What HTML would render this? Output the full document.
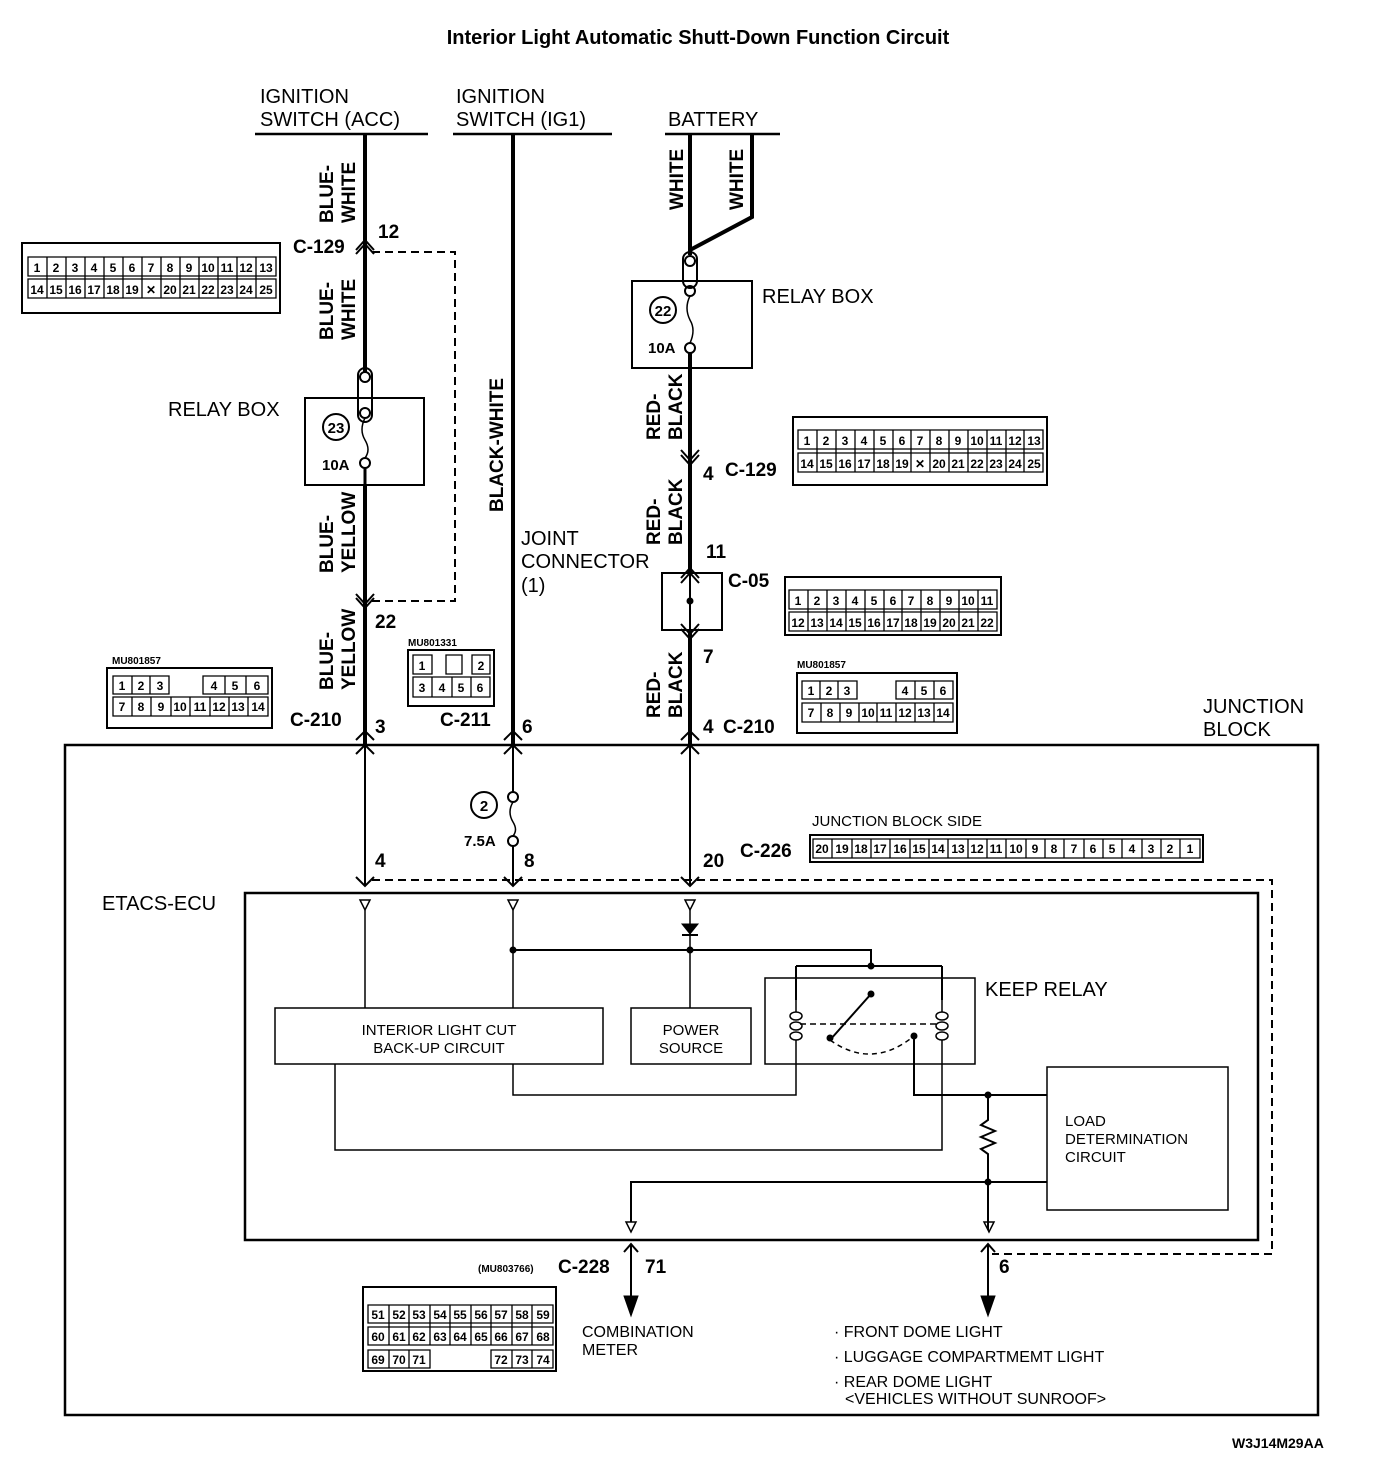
<!DOCTYPE html>
<html><head><meta charset="utf-8"><style>
html,body{margin:0;padding:0;background:#fff}
svg{display:block}
text{font-family:"Liberation Sans",sans-serif;fill:#000}
.c{font-size:12px;font-weight:bold;text-anchor:middle}
.n{font-family:"Liberation Sans",sans-serif;font-weight:bold;font-size:19px}
.l{font-size:20px}
.s{font-size:16px}
</style></head><body>
<svg width="1376" height="1470" viewBox="0 0 1376 1470" xmlns="http://www.w3.org/2000/svg">
<g fill="none" stroke="#000">
<!-- headers -->
<line x1="255" y1="134" x2="428" y2="134" stroke-width="2.5"/>
<line x1="453" y1="134" x2="612" y2="134" stroke-width="2.5"/>
<line x1="665" y1="134" x2="780" y2="134" stroke-width="2.5"/>
<!-- ACC wire -->
<line x1="365" y1="134" x2="365" y2="372" stroke-width="4"/>
<line x1="365" y1="485" x2="365" y2="745" stroke-width="4"/>
<rect x="358" y="368" width="14" height="54" rx="7" stroke-width="2"/>
<circle cx="365" cy="377" r="5" stroke-width="2"/><circle cx="365" cy="413" r="5" stroke-width="2"/>
<circle cx="365" cy="463" r="5" stroke-width="2"/>
<path d="M365 418 q-6 12 0 22 q6 10 0 18" stroke-width="1.5"/>
<line x1="365" y1="468" x2="365" y2="485" stroke-width="3"/>
<rect x="305" y="398" width="119" height="87" stroke-width="2"/>
<circle cx="336" cy="427" r="13" stroke-width="2"/>
<!-- dashed loop -->
<path d="M372 252 H455 V601 H370" stroke-width="2" stroke-dasharray="8,5"/>
<!-- arrows on ACC -->
<path d="M356 254 L365 244 L374 254 M356 250 L365 240 L374 250" stroke-width="2"/>
<path d="M356 594 L365 604 L374 594 M356 598 L365 608 L374 598" stroke-width="2"/>
<!-- IG1 wire -->
<line x1="513" y1="134" x2="513" y2="745" stroke-width="4"/>
<!-- battery wires -->
<line x1="690" y1="134" x2="690" y2="255" stroke-width="4"/>
<path d="M752 134 V217 L690 250" stroke-width="4"/>
<rect x="683" y="252" width="14" height="36" rx="7" stroke-width="2"/>
<circle cx="690" cy="261" r="5" stroke-width="2"/><circle cx="690" cy="291" r="5" stroke-width="2"/>
<circle cx="690" cy="348" r="5" stroke-width="2"/>
<path d="M690 296 q-6 12 0 24 q6 10 0 23" stroke-width="1.5"/>
<rect x="632" y="281" width="120" height="87" stroke-width="2"/>
<circle cx="663" cy="310" r="13" stroke-width="2"/>
<line x1="690" y1="353" x2="690" y2="573" stroke-width="4"/>
<line x1="690" y1="630" x2="690" y2="745" stroke-width="4"/>
<path d="M681 450 L690 460 L699 450 M681 455 L690 465 L699 455" stroke-width="2"/>
<rect x="662" y="573" width="60" height="57" stroke-width="2"/>
<line x1="690" y1="573" x2="690" y2="630" stroke-width="2"/>
<circle cx="690" cy="601" r="3" fill="#000"/>
<path d="M681 578 L690 568 L699 578 M681 583 L690 573 L699 583" stroke-width="2"/>
<path d="M681 624 L690 634 L699 624 M681 629 L690 639 L699 629" stroke-width="2"/>
<!-- Junction block -->
<rect x="65" y="745" width="1253" height="670" stroke-width="2.5"/>
<!-- arrows at JB top -->
<path d="M356 740 L365 731 L374 740 M356 754 L365 745 L374 754 M504 740 L513 731 L522 740 M504 754 L513 745 L522 754 M681 740 L690 731 L699 740 M681 754 L690 745 L699 754" stroke-width="2"/>
<!-- inside wires -->
<line x1="365" y1="745" x2="365" y2="885" stroke-width="2"/>
<line x1="513" y1="745" x2="513" y2="792" stroke-width="2"/>
<circle cx="513" cy="797" r="5" stroke-width="2"/><circle cx="513" cy="841" r="5" stroke-width="2"/>
<path d="M513 802 q-6 10 0 20 q5 8 0 14" stroke-width="1.5"/>
<circle cx="484" cy="805" r="13" stroke-width="2"/>
<line x1="513" y1="846" x2="513" y2="885" stroke-width="2"/>
<line x1="690" y1="745" x2="690" y2="885" stroke-width="2"/>
<path d="M356 877 L365 886 L374 877 M504 877 L513 886 L522 877 M681 877 L690 886 L699 877" stroke-width="2"/>
<path d="M372 880 H1272 V1254 H992" stroke-width="2" stroke-dasharray="8,5"/>
<!-- C-226 strip -->
<rect x="810" y="835" width="393" height="27" stroke-width="2"/>
<!-- ECU -->
<rect x="245" y="893" width="1013" height="347" stroke-width="2.5"/>
<path d="M360 900 h10 l-5 10 z M508 900 h10 l-5 10 z M685 900 h10 l-5 10 z M626 1222 h10 l-5 10 z M984 1222 h10 l-5 10 z" stroke-width="1.5"/>
<line x1="365" y1="910" x2="365" y2="1008" stroke-width="1.5"/>
<line x1="513" y1="910" x2="513" y2="1008" stroke-width="1.5"/>
<line x1="690" y1="910" x2="690" y2="1008" stroke-width="1.5"/>
<path d="M682 924 h16 l-8 10 z" fill="#000"/><line x1="682" y1="935" x2="698" y2="935" stroke-width="2"/>
<path d="M513 950 H871 V966 M796 966 V1000 M942 966 V1000 M796 966 H942" stroke-width="2"/>
<circle cx="513" cy="950" r="3" fill="#000"/><circle cx="690" cy="950" r="3" fill="#000"/><circle cx="871" cy="966" r="3" fill="#000"/>
<rect x="275" y="1008" width="328" height="56" stroke-width="1.5"/>
<rect x="631" y="1008" width="120" height="56" stroke-width="1.5"/>
<rect x="765" y="978" width="210" height="86" stroke-width="1.5"/>
<path d="M796 1000 V1012 M796 1040 V1095 H513 V1064 M942 1000 V1012 M942 1040 V1150 H335 V1064" stroke-width="1.5"/>
<g stroke-width="1.5"><ellipse cx="796" cy="1016" rx="6" ry="4"/><ellipse cx="796" cy="1026" rx="6" ry="4"/><ellipse cx="796" cy="1036" rx="6" ry="4"/>
<ellipse cx="942" cy="1016" rx="6" ry="4"/><ellipse cx="942" cy="1026" rx="6" ry="4"/><ellipse cx="942" cy="1036" rx="6" ry="4"/></g>
<path d="M871 994 L830 1040" stroke-width="2"/>
<circle cx="871" cy="994" r="3" fill="#000"/><circle cx="830" cy="1038" r="3" fill="#000"/><circle cx="914" cy="1036" r="3" fill="#000"/>
<path d="M800 1024 H938" stroke-width="1.5" stroke-dasharray="6,4"/>
<path d="M830 1040 Q872 1070 914 1036" stroke-width="1.5" stroke-dasharray="5,4"/>
<path d="M914 1036 V1095 H1047" stroke-width="2"/>
<circle cx="988" cy="1095" r="3" fill="#000"/>
<path d="M988 1095 V1120 l-7 5 l14 6 l-14 6 l14 6 l-14 6 l7 5 V1230" stroke-width="2"/>
<path d="M631 1222 V1182 H1047" stroke-width="2"/>
<circle cx="988" cy="1182" r="3" fill="#000"/>
<rect x="1047" y="1067" width="181" height="143" stroke-width="1.5"/>
<!-- outputs -->
<path d="M624 1252 L631 1244 L638 1252 M631 1244 V1300 M981 1252 L988 1244 L995 1252 M988 1244 V1300" stroke-width="2"/>
<path d="M624 1296 h14 l-7 20 z M981 1296 h14 l-7 20 z" fill="#000"/>
<!-- connector outlines -->
<rect x="22" y="243" width="258" height="70" stroke-width="2"/>
<rect x="793" y="417" width="254" height="68" stroke-width="2"/>
<rect x="785" y="577" width="216" height="58" stroke-width="2"/>
<rect x="107" y="668" width="165" height="60" stroke-width="2"/>
<rect x="797" y="673" width="160" height="60" stroke-width="2"/>
<rect x="408" y="650" width="86" height="56" stroke-width="2"/>
<rect x="363" y="1287" width="193" height="84" stroke-width="2"/>
</g>
<g stroke="#000" stroke-width="1.3" fill="none" id="cells">
<!-- left 25 -->
<path d="M28 257h248v19h-248zM28 279h248v19h-248z"/>
<path d="M47 257v41M66 257v41M85 257v41M104 257v41M123 257v41M142 257v41M161 257v41M180 257v41M199 257v41M218 257v41M237 257v41M256 257v41"/>
<!-- right 25 -->
<path d="M798 430h245v19h-245zM798 453h245v19h-245z"/>
<path d="M817 430v42M836 430v42M855 430v42M874 430v42M893 430v42M911 430v42M930 430v42M949 430v42M968 430v42M987 430v42M1006 430v42M1024 430v42"/>
<!-- C-05 -->
<path d="M789 590h208v19h-208zM789 612h208v19h-208z"/>
<path d="M808 590v41M827 590v41M846 590v41M865 590v41M884 590v41M902 590v41M921 590v41M940 590v41M959 590v41M978 590v41"/>
<!-- MU801857 left -->
<path d="M113 676h56v18h-56zM203 676h65v18h-65zM113 697h155v19h-155z"/>
<path d="M132 676v18M150 676v18M225 676v18M246 676v18M132 697v19M151 697v19M171 697v19M190 697v19M210 697v19M229 697v19M248 697v19"/>
<!-- MU801857 right -->
<path d="M802 681h55v18h-55zM896 681h57v18h-57zM802 703h151v19h-151z"/>
<path d="M820 681v18M838 681v18M915 681v18M934 681v18M821 703v19M840 703v19M859 703v19M877 703v19M896 703v19M915 703v19M934 703v19"/>
<!-- MU801331 -->
<path d="M413 655h19v19h-19zM446 655h16v19h-16zM472 655h18v19h-18zM413 677h77v20h-77zM432 677v20M452 677v20M471 677v20"/>
<!-- C-226 -->
<path d="M813 839h387v19h-387z"/>
<path d="M832 839v19M852 839v19M871 839v19M890 839v19M910 839v19M929 839v19M948 839v19M968 839v19M987 839v19M1006 839v19M1026 839v19M1045 839v19M1064 839v19M1084 839v19M1103 839v19M1122 839v19M1142 839v19M1161 839v19M1180 839v19"/>
<!-- C-228 -->
<path d="M368 1305h185v18h-185zM368 1327h185v18h-185zM368 1350h62v18h-62zM491 1350h62v18h-62z"/>
<path d="M389 1305v40M409 1305v40M430 1305v40M450 1305v40M471 1305v40M491 1305v40M512 1305v40M532 1305v40M389 1350v18M409 1350v18M512 1350v18M532 1350v18"/>
</g>
<!-- texts -->
<text x="698" y="44" text-anchor="middle" style="font-size:20px;font-weight:bold">Interior Light Automatic Shutt-Down Function Circuit</text>
<text x="260" y="103" class="l">IGNITION</text><text x="260" y="126" class="l">SWITCH (ACC)</text>
<text x="456" y="103" class="l">IGNITION</text><text x="456" y="126" class="l">SWITCH (IG1)</text>
<text x="668" y="126" class="l">BATTERY</text>
<g class="n" style="font-family:'Liberation Sans',sans-serif;font-weight:bold;font-size:19px">
<text transform="translate(333,223) rotate(-90)">BLUE-</text><text transform="translate(355,223) rotate(-90)">WHITE</text>
<text transform="translate(333,340) rotate(-90)">BLUE-</text><text transform="translate(355,340) rotate(-90)">WHITE</text>
<text transform="translate(333,573) rotate(-90)">BLUE-</text><text transform="translate(355,573) rotate(-90)">YELLOW</text>
<text transform="translate(333,690) rotate(-90)">BLUE-</text><text transform="translate(355,690) rotate(-90)">YELLOW</text>
<text transform="translate(503,512) rotate(-90)">BLACK-WHITE</text>
<text transform="translate(683,210) rotate(-90)">WHITE</text><text transform="translate(743,210) rotate(-90)">WHITE</text>
<text transform="translate(660,440) rotate(-90)">RED-</text><text transform="translate(682,440) rotate(-90)">BLACK</text>
<text transform="translate(660,545) rotate(-90)">RED-</text><text transform="translate(682,545) rotate(-90)">BLACK</text>
<text transform="translate(660,718) rotate(-90)">RED-</text><text transform="translate(682,718) rotate(-90)">BLACK</text>
<text x="293" y="253">C-129</text><text x="378" y="238">12</text>
<text x="375" y="628">22</text>
<text x="290" y="726">C-210</text><text x="375" y="733">3</text>
<text x="440" y="726">C-211</text><text x="522" y="733">6</text>
<text x="703" y="480">4</text><text x="725" y="476">C-129</text>
<text x="706" y="558">11</text><text x="728" y="587">C-05</text>
<text x="703" y="663">7</text>
<text x="703" y="733">4</text><text x="723" y="733">C-210</text>
<text x="375" y="867">4</text><text x="524" y="867">8</text><text x="703" y="867">20</text>
<text x="740" y="857">C-226</text>
<text x="558" y="1273">C-228</text><text x="645" y="1273">71</text>
<text x="999" y="1273">6</text>
</g>
<text x="168" y="416" class="l">RELAY BOX</text>
<text x="762" y="303" class="l">RELAY BOX</text>
<text x="336" y="433" class="c" style="font-size:15px">23</text><text x="322" y="470" style="font-size:15px;font-weight:bold">10A</text>
<text x="663" y="316" class="c" style="font-size:15px">22</text><text x="648" y="353" style="font-size:15px;font-weight:bold">10A</text>
<text x="484" y="811" class="c" style="font-size:15px">2</text><text x="464" y="846" style="font-size:15px;font-weight:bold">7.5A</text>
<text x="521" y="545" class="l">JOINT</text><text x="521" y="568" class="l">CONNECTOR</text><text x="521" y="592" class="l">(1)</text>
<text x="1203" y="713" class="l">JUNCTION</text><text x="1203" y="736" class="l">BLOCK</text>
<text x="812" y="826" style="font-size:15px">JUNCTION BLOCK SIDE</text>
<text x="102" y="910" class="l">ETACS-ECU</text>
<text x="985" y="996" class="l">KEEP RELAY</text>
<text x="439" y="1035" class="c" style="font-size:15px;font-weight:normal">INTERIOR LIGHT CUT</text>
<text x="439" y="1053" class="c" style="font-size:15px;font-weight:normal">BACK-UP CIRCUIT</text>
<text x="691" y="1035" class="c" style="font-size:15px;font-weight:normal">POWER</text>
<text x="691" y="1053" class="c" style="font-size:15px;font-weight:normal">SOURCE</text>
<text x="1065" y="1126" style="font-size:15px">LOAD</text><text x="1065" y="1144" style="font-size:15px">DETERMINATION</text><text x="1065" y="1162" style="font-size:15px">CIRCUIT</text>
<text x="582" y="1337" class="s">COMBINATION</text><text x="582" y="1355" class="s">METER</text>
<text x="834" y="1337" class="s">· FRONT DOME LIGHT</text>
<text x="834" y="1362" class="s">· LUGGAGE COMPARTMEMT LIGHT</text>
<text x="834" y="1387" class="s">· REAR DOME LIGHT</text>
<text x="845" y="1404" class="s">&lt;VEHICLES WITHOUT SUNROOF&gt;</text>
<text x="478" y="1272" style="font-size:10px;font-weight:bold">(MU803766)</text>
<text x="112" y="664" style="font-size:10px;font-weight:bold">MU801857</text>
<text x="797" y="668" style="font-size:10px;font-weight:bold">MU801857</text>
<text x="408" y="646" style="font-size:10px;font-weight:bold">MU801331</text>
<text x="1232" y="1448" style="font-size:14px;font-weight:bold">W3J14M29AA</text>
<!-- cell numbers -->
<g class="c">
<text x="37" y="272">1</text><text x="56" y="272">2</text><text x="75" y="272">3</text><text x="94" y="272">4</text><text x="113" y="272">5</text><text x="132" y="272">6</text><text x="151" y="272">7</text><text x="170" y="272">8</text><text x="189" y="272">9</text><text x="208" y="272">10</text><text x="227" y="272">11</text><text x="246" y="272">12</text><text x="266" y="272">13</text>
<text x="37" y="294">14</text><text x="56" y="294">15</text><text x="75" y="294">16</text><text x="94" y="294">17</text><text x="113" y="294">18</text><text x="132" y="294">19</text><text x="151" y="294">✕</text><text x="170" y="294">20</text><text x="189" y="294">21</text><text x="208" y="294">22</text><text x="227" y="294">23</text><text x="246" y="294">24</text><text x="266" y="294">25</text>
<text x="807" y="445">1</text><text x="826" y="445">2</text><text x="845" y="445">3</text><text x="864" y="445">4</text><text x="883" y="445">5</text><text x="902" y="445">6</text><text x="920" y="445">7</text><text x="939" y="445">8</text><text x="958" y="445">9</text><text x="977" y="445">10</text><text x="996" y="445">11</text><text x="1015" y="445">12</text><text x="1034" y="445">13</text>
<text x="807" y="468">14</text><text x="826" y="468">15</text><text x="845" y="468">16</text><text x="864" y="468">17</text><text x="883" y="468">18</text><text x="902" y="468">19</text><text x="920" y="468">✕</text><text x="939" y="468">20</text><text x="958" y="468">21</text><text x="977" y="468">22</text><text x="996" y="468">23</text><text x="1015" y="468">24</text><text x="1034" y="468">25</text>
<text x="798" y="605">1</text><text x="817" y="605">2</text><text x="836" y="605">3</text><text x="855" y="605">4</text><text x="874" y="605">5</text><text x="893" y="605">6</text><text x="911" y="605">7</text><text x="930" y="605">8</text><text x="949" y="605">9</text><text x="968" y="605">10</text><text x="987" y="605">11</text>
<text x="798" y="627">12</text><text x="817" y="627">13</text><text x="836" y="627">14</text><text x="855" y="627">15</text><text x="874" y="627">16</text><text x="893" y="627">17</text><text x="911" y="627">18</text><text x="930" y="627">19</text><text x="949" y="627">20</text><text x="968" y="627">21</text><text x="987" y="627">22</text>
<text x="122" y="690">1</text><text x="141" y="690">2</text><text x="160" y="690">3</text><text x="214" y="690">4</text><text x="235" y="690">5</text><text x="257" y="690">6</text>
<text x="122" y="711">7</text><text x="141" y="711">8</text><text x="161" y="711">9</text><text x="180" y="711">10</text><text x="200" y="711">11</text><text x="219" y="711">12</text><text x="238" y="711">13</text><text x="258" y="711">14</text>
<text x="811" y="695">1</text><text x="829" y="695">2</text><text x="847" y="695">3</text><text x="905" y="695">4</text><text x="924" y="695">5</text><text x="943" y="695">6</text>
<text x="811" y="717">7</text><text x="830" y="717">8</text><text x="849" y="717">9</text><text x="868" y="717">10</text><text x="886" y="717">11</text><text x="905" y="717">12</text><text x="924" y="717">13</text><text x="943" y="717">14</text>
<text x="422" y="670">1</text><text x="481" y="670">2</text>
<text x="422" y="692">3</text><text x="442" y="692">4</text><text x="461" y="692">5</text><text x="480" y="692">6</text>
<text x="822" y="853">20</text><text x="842" y="853">19</text><text x="861" y="853">18</text><text x="880" y="853">17</text><text x="900" y="853">16</text><text x="919" y="853">15</text><text x="938" y="853">14</text><text x="958" y="853">13</text><text x="977" y="853">12</text><text x="996" y="853">11</text><text x="1016" y="853">10</text><text x="1035" y="853">9</text><text x="1054" y="853">8</text><text x="1074" y="853">7</text><text x="1093" y="853">6</text><text x="1112" y="853">5</text><text x="1132" y="853">4</text><text x="1151" y="853">3</text><text x="1170" y="853">2</text><text x="1190" y="853">1</text>
<text x="378" y="1319">51</text><text x="399" y="1319">52</text><text x="419" y="1319">53</text><text x="440" y="1319">54</text><text x="460" y="1319">55</text><text x="481" y="1319">56</text><text x="501" y="1319">57</text><text x="522" y="1319">58</text><text x="543" y="1319">59</text>
<text x="378" y="1341">60</text><text x="399" y="1341">61</text><text x="419" y="1341">62</text><text x="440" y="1341">63</text><text x="460" y="1341">64</text><text x="481" y="1341">65</text><text x="501" y="1341">66</text><text x="522" y="1341">67</text><text x="543" y="1341">68</text>
<text x="378" y="1364">69</text><text x="399" y="1364">70</text><text x="419" y="1364">71</text><text x="501" y="1364">72</text><text x="522" y="1364">73</text><text x="543" y="1364">74</text>
</g>
</svg>
</body></html>
